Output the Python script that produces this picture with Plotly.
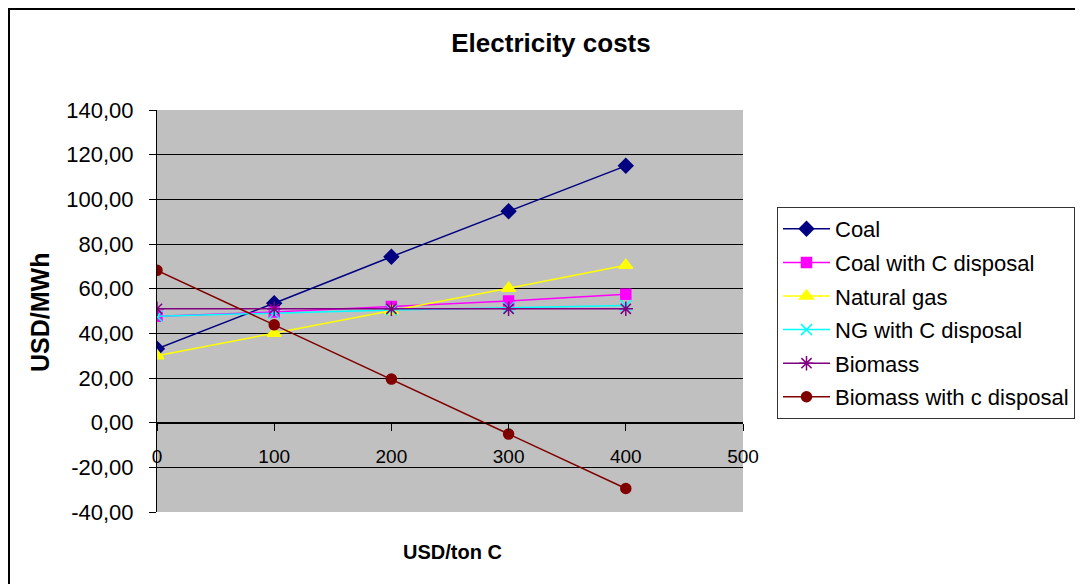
import plotly.graph_objects as go

x_vals = [0, 100, 200, 300, 400]
coal = [33.1, 53.5, 74.3, 94.7, 115.0]
coal_cd = [47.6, 49.5, 52.0, 54.5, 57.5]
natural_gas = [30.0, 40.0, 50.1, 60.2, 70.5]
ng_cd = [47.6, 49.0, 50.5, 51.5, 52.5]
biomass = [51.0, 51.0, 51.0, 51.0, 51.0]
biomass_cd = [68.2, 43.8, 19.5, -5.1, -29.5]

series_names = ["Coal", "Coal with C disposal", "Natural gas", "NG with C disposal",
                "Biomass", "Biomass with c disposal"]
series_values = [coal, coal_cd, natural_gas, ng_cd, biomass, biomass_cd]
colors = ["#000080", "#FF00FF", "#FFFF00", "#00FFFF", "#800080", "#800000"]
symbols = ["diamond", "square", "triangle-up", "x-thin-open", "asterisk-open", "circle"]
sizes = [11, 10, 12, 11, 12, 10]

y_ticks = [-40, -20, 0, 20, 40, 60, 80, 100, 120, 140]
y_ticktext = ["-40,00", "-20,00", "0,00", "20,00", "40,00", "60,00", "80,00",
              "100,00", "120,00", "140,00"]
x_ticks = [0, 100, 200, 300, 400, 500]
x_ticktext = ["0", "100", "200", "300", "400", "500"]

fig = go.Figure()
for name, vals, c, s, sz in zip(series_names, series_values, colors, symbols, sizes):
    fig.add_trace(go.Scatter(
        x=x_vals, y=vals, name=name, mode="lines+markers", legendgroup=name,
        line=dict(color=c, width=1.5),
        marker=dict(symbol=s, size=sz, color=c, line=dict(color=c, width=1.5)),
    ))

# page body has an 8px margin; reference pixel coords are converted by subtracting it
OFF = 8
W, H = 1083 - OFF, 584 - OFF
L = 157 - OFF
T = 110 - OFF
R = W - (743 - OFF)
B = H - (512 - OFF)
pw, ph = W - L - R, H - T - B

def px_x(p):
    return (p - OFF - L) / pw

def px_y(p):
    return (H - B - (p - OFF)) / ph

fig.update_layout(
    width=W, height=H,
    margin=dict(l=L, r=R, t=T, b=B, autoexpand=False),
    paper_bgcolor="white",
    plot_bgcolor="#C0C0C0",
    font=dict(family="Liberation Sans, Arial, sans-serif", color="black", size=19),
    title=dict(text="<b>Electricity costs</b>", x=(551 - OFF) / W, xref="container",
               xanchor="center", y=1 - (43 - OFF) / H, yref="container", yanchor="middle",
               font=dict(size=26, color="black")),
    showlegend=True,
    legend=dict(x=(777 - OFF) / W, y=1 - (207 - OFF) / H, xref="container", yref="container",
                xanchor="left", yanchor="top",
                bgcolor="white", bordercolor="#333333", borderwidth=1,
                font=dict(size=22, color="black"), tracegroupgap=2,
                itemwidth=47),
    xaxis=dict(range=[0, 500], tickvals=x_ticks, ticktext=x_ticktext,
               showgrid=False, zeroline=False, showline=True, linecolor="black", linewidth=1,
               ticks="outside", ticklen=7, tickcolor="black",
               anchor="free", position=40 / 180, ticklabelstandoff=10,
               tickfont=dict(size=19)),
    yaxis=dict(range=[-40, 140], tickvals=y_ticks, ticktext=y_ticktext,
               showgrid=True, gridcolor="black", gridwidth=1, zeroline=False,
               showline=True, linecolor="black", linewidth=1,
               ticks="outside", ticklen=7, tickcolor="black", ticklabelstandoff=11,
               tickfont=dict(size=22), domain=[0, 1]),
    annotations=[
        dict(text="<b>USD/ton C</b>", x=px_x(452), y=px_y(552), xref="paper", yref="paper",
             showarrow=False, xanchor="center", yanchor="middle", font=dict(size=20)),
        dict(text="<b>USD/MWh</b>", x=px_x(40), y=px_y(313), xref="paper", yref="paper",
             showarrow=False, xanchor="center", yanchor="middle", textangle=-90,
             font=dict(size=25)),
    ],
    shapes=[
        dict(type="rect", xref="paper", yref="paper", x0=px_x(OFF + 1), y0=px_y(800),
             x1=px_x(1300), y1=px_y(OFF + 1), line=dict(color="black", width=2), layer="below"),
    ],
)

fig.write_html("out.html")
